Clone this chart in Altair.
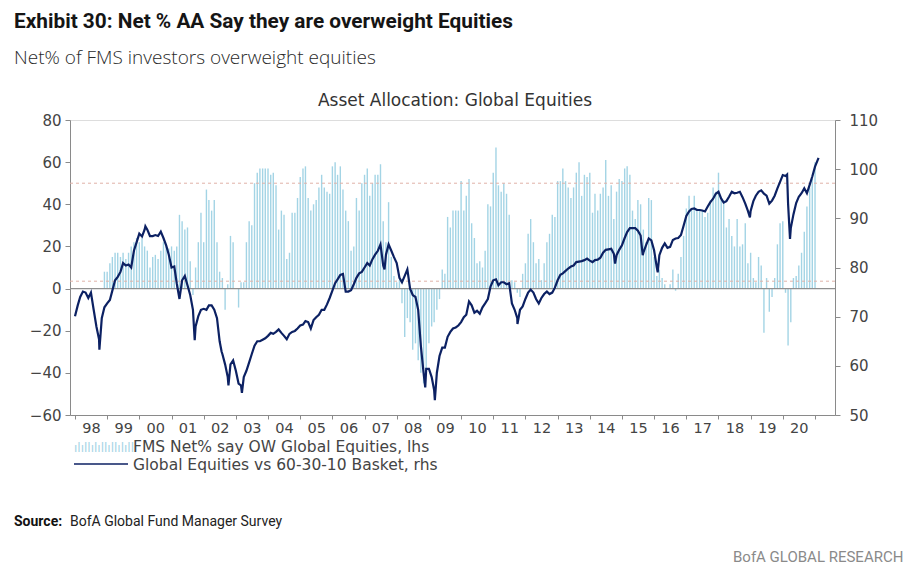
import altair as alt
import pandas as pd

# ---------------- data ----------------
fms_start = "1998-12-01"
fms_values = [
    8,
    8, 12, 15, 17, 17, 15, 17, 14, 17, 20, 22, 24,      # 1999
    22, 24, 20, 18, 10, 15, 16, 14, 18, 22, 20, 19,     # 2000
    20, 18, 20, 35, 32, 28, 29, 13, -3, 10, 22, 36,     # 2001
    22, 47, 42, 37, 42, 22, 8, 5, -10, 2, 25, 22,       # 2002
    0, -9, 3, 3, 22, 32, 30, 50, 55, 57, 57, 57,        # 2003
    57, 54, 55, 49, 28, 37, 35, 14, 17, 36, 36, 43,     # 2004
    53, 57, 58, 43, 37, 40, 42, 48, 54, 48, 46, 45,     # 2005
    58, 60, 54, 58, 47, 37, 32, 18, 20, 43, 37, 50,     # 2006
    54, 57, 44, 50, 54, 54, 59, 32, 22, 41, 15, 6,      # 2007
    3, 4, -7, -23, -14, -16, -29, -26, -34, -40, -45, -38,  # 2008
    -26, -18, -16, -10, -5, 9, 7, 34, 29, 37, 37, 37,   # 2009
    51, 37, 44, 52, 31, 24, 12, 13, 10, 18, 40, 39,     # 2010
    55, 67, 49, 46, 50, 45, 35, 4, 3, -2, -4, 7,        # 2011
    12, 26, 33, 22, 12, 14, 4, 12, 22, 26, 35, 34,      # 2012
    51, 51, 57, 51, 48, 43, 48, 55, 60, 44, 54, 53,     # 2013
    55, 36, 45, 37, 45, 48, 61, 44, 49, 33, 46, 52,     # 2014
    51, 57, 58, 54, 37, 33, 42, 40, 28, 22, 43, 42,     # 2015
    15, 6, 9, 5, 2, 0, 2, 9, -1, 7, 15, 25,             # 2016
    38, 44, 38, 44, 38, 37, 37, 34, 36, 42, 48, 46,     # 2017
    55, 42, 42, 29, 33, 25, 20, 33, 20, 21, 31, 12,     # 2018
    17, 5, 3, 15, 11, -21, 5, -11, -4, 5, 21, 31,       # 2019
    32, -2, -27, -16, 5, 6, 11, 17, 27, 39, 48, 52,     # 2020
    60,                                                 # 2021
]

line_start = "1998-01-01"
line_values = [
    70.1, 72.3, 74.0, 75.1, 74.9, 73.8, 74.9, 71.4, 68.0, 65.4, 69.7, 71.9,  # 1998
    72.7, 73.4, 75.3, 77.4, 78.1, 79.1, 80.9, 80.4, 80.6, 80.0, 83.4, 85.1,  # 1999
    86.9, 86.3, 87.7, 87.7, 86.4, 86.4, 86.6, 86.4, 87.3, 86.0, 84.5, 82.6,  # 2000
    80.0, 80.2, 76.8, 73.6, 77.4, 78.3, 76.4, 74.4, 71.4, 68.0, 70.1, 71.4,  # 2001
    71.6, 71.4, 72.3, 72.3, 71.4, 69.7, 65.0, 62.4, 60.3, 57.7, 60.3, 61.1,  # 2002
    59.0, 56.4, 56.0, 57.7, 59.0, 60.7, 62.4, 64.1, 65.0, 65.0, 65.3, 65.6,  # 2003
    66.1, 66.7, 66.5, 66.9, 67.4, 66.7, 66.1, 65.4, 66.5, 66.9, 67.1, 67.6,  # 2004
    68.2, 68.4, 69.1, 68.9, 67.6, 69.3, 69.9, 70.4, 71.4, 71.4, 72.5, 73.8,  # 2005
    75.3, 76.8, 77.6, 78.5, 78.7, 75.1, 75.1, 75.4, 76.6, 77.9, 78.8, 79.1,  # 2006
    80.0, 80.9, 80.4, 81.7, 82.6, 83.4, 84.7, 80.4, 82.6, 84.7, 83.4, 82.1,  # 2007
    80.9, 77.9, 77.0, 78.3, 79.6, 75.7, 74.4, 74.0, 71.4, 64.1, 58.6, 59.4,  # 2008
    59.4, 57.7, 55.1, 58.6, 62.0, 63.7, 63.7, 65.9, 66.9, 67.6, 67.8, 68.2,  # 2009
    68.9, 69.9, 70.4, 73.1, 72.3, 70.8, 71.2, 70.6, 71.9, 72.7, 73.6, 76.1,  # 2010
    77.4, 77.6, 76.4, 77.0, 77.0, 76.6, 76.8, 72.7, 71.4, 69.7, 71.4, 72.1,  # 2011
    73.6, 74.9, 75.5, 74.9, 73.6, 72.7, 73.8, 74.6, 75.1, 74.6, 74.9, 75.9,  # 2012
    77.4, 78.5, 78.8, 79.3, 79.8, 80.2, 80.4, 81.1, 81.2, 81.3, 81.5, 81.8,  # 2013
    81.4, 81.1, 81.5, 81.6, 82.0, 83.0, 83.6, 83.7, 83.8, 82.8, 82.5, 83.6,  # 2014
    84.5, 86.0, 87.2, 88.0, 88.0, 88.0, 87.5, 86.5, 83.0, 84.5, 85.9, 85.5,  # 2015
    83.5, 80.0, 82.5, 84.0, 84.9, 84.0, 84.2, 85.6, 85.9, 86.0, 86.6, 88.5,  # 2016
    90.5, 91.4, 91.9, 92.0, 91.7, 91.7, 91.6, 91.4, 92.4, 93.3, 94.0, 95.0,  # 2017
    95.4, 94.0, 93.2, 93.5, 94.4, 95.4, 95.1, 95.2, 95.4, 94.3, 93.0, 91.5,  # 2018
    91.5, 93.5, 94.6, 95.4, 95.7, 95.0, 94.6, 93.0, 93.6, 94.6, 96.1, 97.4,  # 2019
    98.8, 98.6, 93.0, 88.0, 90.8, 93.1, 94.4, 95.1, 96.1, 95.1, 96.8, 98.5,  # 2020
    100.5, 101.9,                                                            # 2021
]

line_extra_dates = ["1998-10-05", "2000-03-10", "2001-09-21", "2002-07-23", "2002-10-09",
                    "2003-03-11", "2007-08-16", "2008-11-20", "2009-03-09", "2011-10-03",
                    "2014-10-15", "2015-08-25", "2016-02-11", "2018-12-24", "2020-02-19",
                    "2020-03-23", "2021-02-10"]
line_extra_values = [63.3, 88.4, 65.2, 62.9, 56.0,
                     54.5, 79.6, 55.6, 53.0, 68.5,
                     80.8, 82.5, 79.0, 90.2, 98.9,
                     85.8, 102.3]

ref_levels = [50, 3.5]
lhs_ticks = [-60, -40, -20, 0, 20, 40, 60, 80]
rhs_ticks = [50, 60, 70, 80, 90, 100, 110]
year_ticks = list(range(1998, 2022))

title_text = "Exhibit 30: Net % AA Say they are overweight Equities"
subtitle_text = "Net% of FMS investors overweight equities"
chart_title = "Asset Allocation: Global Equities"
legend_bar = "FMS Net% say OW Global Equities, lhs"
legend_line = "Global Equities vs 60-30-10 Basket, rhs"
source_bold = "Source:"
source_text = "BofA Global Fund Manager Survey"
brand_text = "BofA GLOBAL RESEARCH"

# ---------------- frames ----------------
bars_df = pd.DataFrame({
    "date": pd.date_range(fms_start, periods=len(fms_values), freq="MS"),
    "net": fms_values,
})
line_df = pd.concat([
    pd.DataFrame({"date": pd.date_range(line_start, periods=len(line_values), freq="MS"),
                  "rel": line_values}),
    pd.DataFrame({"date": pd.to_datetime(line_extra_dates), "rel": line_extra_values}),
]).sort_values("date").reset_index(drop=True)
ref_df = pd.DataFrame({"net": ref_levels})
zero_df = pd.DataFrame({"net": [0]})

# ---------------- styles ----------------
BAR = "#a3d4e5"
NAVY = "#0c2163"
AXIS_FONT = "DejaVu Sans"
AX_COL = "#444444"
DOM_COL = "#8a8a8a"

x_scale = alt.Scale(domain=[alt.DateTime(year=1998, month=1, date=1),
                            alt.DateTime(year=2021, month=6, date=20)])
x_axis = alt.Axis(
    values=[alt.DateTime(year=y, month=1, date=1) for y in year_ticks],
    labelExpr="year(datum.value) > 2020 ? '' : timeFormat(datum.value, '%y')",
    labelOffset=16, tickSize=4, labelPadding=2, title=None, grid=False,
    labelFont=AXIS_FONT, labelFontSize=14.5, labelColor=AX_COL,
    domainColor=DOM_COL, tickColor=DOM_COL,
)
x_enc = alt.X("date:T", scale=x_scale, axis=x_axis)

lhs_scale = alt.Scale(domain=[-60, 80], nice=False, zero=False)
lhs_axis = alt.Axis(values=lhs_ticks, orient="left", title=None, grid=False,
                    tickSize=5, labelPadding=4, labelFont=AXIS_FONT, labelFontSize=15,
                    labelColor=AX_COL, domainColor=DOM_COL, tickColor=DOM_COL)
rhs_scale = alt.Scale(domain=[50, 110], nice=False, zero=False)
rhs_axis = alt.Axis(values=rhs_ticks, orient="right", title=None, grid=False,
                    tickSize=5, labelPadding=9, labelFont=AXIS_FONT, labelFontSize=15,
                    labelColor=AX_COL, domainColor=DOM_COL, tickColor=DOM_COL)

bars = alt.Chart(bars_df).mark_bar(size=1.4, color=BAR).encode(
    x=x_enc,
    y=alt.Y("net:Q", scale=lhs_scale, axis=lhs_axis),
    y2=alt.datum(0),
)
refs = alt.Chart(ref_df).mark_rule(color="#e0b2a8", strokeDash=[3, 3], strokeWidth=1).encode(
    y=alt.Y("net:Q", scale=lhs_scale, axis=lhs_axis),
)
zero = alt.Chart(zero_df).mark_rule(color="#8f8f8f", strokeWidth=1.2).encode(
    y=alt.Y("net:Q", scale=lhs_scale, axis=lhs_axis),
)
left = alt.layer(bars, refs, zero)

line = alt.Chart(line_df).mark_line(color=NAVY, strokeWidth=2.2).encode(
    x=x_enc,
    y=alt.Y("rel:Q", scale=rhs_scale, axis=rhs_axis),
)

one = pd.DataFrame({"k": [0]})


def label(text, x, y, size, color="#333333", font="Roboto", weight="normal", align="left"):
    return alt.Chart(one).mark_text(
        text=text, align=align, baseline="alphabetic", font=font, fontSize=size,
        fontWeight=weight, color=color,
    ).encode(x=alt.value(x), y=alt.value(y))


texts = [
    label(title_text, -56, -92, 20.8, color="#151515", font="Roboto", weight="bold"),
    label(subtitle_text, -56, -56, 19, color="#2a2a2a", font="Open Sans", weight=300),
    label(chart_title, 385, -14, 17, color="#333333", font=AXIS_FONT, align="center"),
    label("ılıllılıllıllılıllı", 4, 332, 12, color=BAR, font=AXIS_FONT),
    label(legend_bar, 63, 332, 15.5, color="#444444", font=AXIS_FONT),
    label(legend_line, 63, 349.5, 15.5, color="#444444", font=AXIS_FONT),
    label(source_bold, -56, 406, 14, color="#111111", font="Roboto", weight="bold"),
    label(source_text, 0, 406, 14, color="#222222", font="Roboto"),
    label(brand_text, 663, 442, 15, color="#8a8a8a", font="Roboto"),
]
legend_rule = alt.Chart(one).mark_rule(color=NAVY, strokeWidth=1.6).encode(
    x=alt.value(4), x2=alt.value(58), y=alt.value(344),
)

chart = alt.layer(left, line, legend_rule, *texts).resolve_scale(y="independent").properties(
    width=765, height=295,
    padding={"left": 62, "top": 112, "right": 70, "bottom": 150},
    autosize=alt.AutoSizeParams(type="none"),
).configure_view(stroke=None).configure(background="white")

chart.save("out.html", embed_options={"renderer": "svg", "actions": False})
